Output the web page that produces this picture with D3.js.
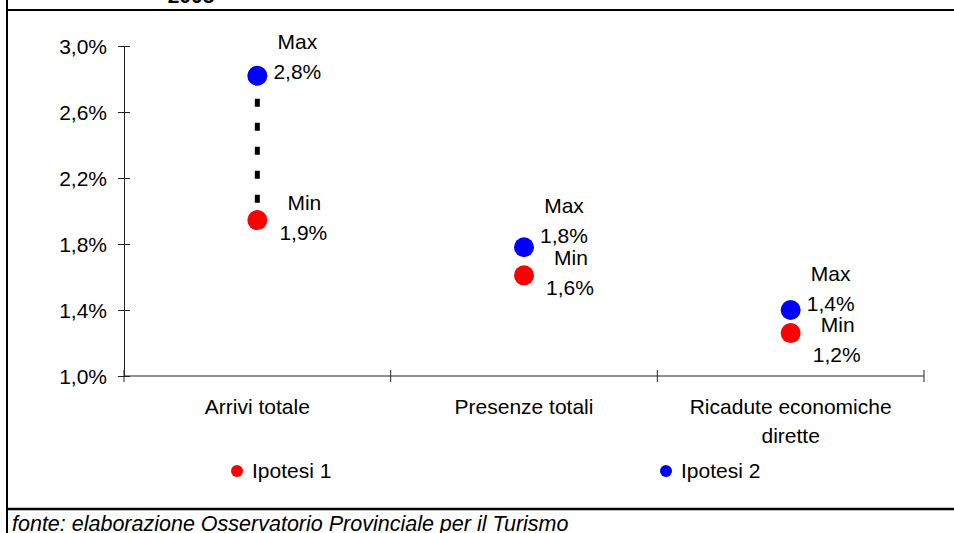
<!DOCTYPE html>
<html>
<head>
<meta charset="utf-8">
<script src="https://cdn.jsdelivr.net/npm/d3@7"></script>
<style>
  html, body { margin: 0; padding: 0; background: #fff; }
  svg { display: block; font-family: Arial, "Liberation Sans", sans-serif; }
</style>
</head>
<body>
<svg id="chart" width="954" height="533"></svg>
<script>
// ---- data ----
const categories = ["Arrivi totale", "Presenze totali", "Ricadute economiche|dirette"];
const ipotesi2Max = [2.82, 1.78, 1.40];   // blue
const ipotesi1Min = [1.945, 1.61, 1.26];  // red
const maxLabels = ["2,8%", "1,8%", "1,4%"];
const minLabels = ["1,9%", "1,6%", "1,2%"];
const yTicks = [1.0, 1.4, 1.8, 2.2, 2.6, 3.0];
const seriesNames = ["Ipotesi 1", "Ipotesi 2"];
const title = "2005";
const source = "fonte: elaborazione Osservatorio Provinciale per il Turismo";

// ---- layout (not data) ----
const maxLabelDy = [-27, -34, -29];
const minLabelDy = [-10, -10, -1];

const svg = d3.select("#chart");
const W = 954, H = 533;
const plot = { left: 124, right: 924, top: 46, bottom: 376 };
const RED = "#ff0000", BLUE = "#0000ff";
const FONT = 21;

const x = d3.scaleBand().domain(d3.range(categories.length)).range([plot.left, plot.right]).padding(0);
const y = d3.scaleLinear().domain([1.0, 3.0]).range([plot.bottom, plot.top]);
const fmt = v => v.toFixed(1).replace(".", ",") + "%";

// frame
svg.append("line").attr("x1", 7).attr("x2", 7).attr("y1", 0).attr("y2", H)
  .attr("stroke", "#000").attr("stroke-width", 2);
svg.append("line").attr("x1", 7).attr("x2", W).attr("y1", 10).attr("y2", 10)
  .attr("stroke", "#000").attr("stroke-width", 2);
svg.append("line").attr("x1", 7).attr("x2", W).attr("y1", 509).attr("y2", 509)
  .attr("stroke", "#000").attr("stroke-width", 2.5);

// title (cut off at top, as in the reference)
svg.append("text").attr("x", 191).attr("y", 3).attr("text-anchor", "middle")
  .attr("font-weight", "bold").attr("font-size", FONT).text(title);

// source
svg.append("text").attr("x", 12).attr("y", 531).attr("font-style", "italic")
  .attr("font-size", 21.5).text(source);

// y axis
const yAxis = d3.axisLeft(y).tickValues(yTicks).tickSizeInner(6).tickSizeOuter(0).tickFormat(fmt);
const gy = svg.append("g").attr("transform", `translate(${plot.left},0)`).call(yAxis);
gy.select(".domain").attr("stroke", "#222");
gy.selectAll(".tick line").attr("x2", -6).attr("x1", 6).attr("stroke", "#222");
gy.selectAll(".tick text").attr("x", -17).attr("dy", "0.36em").attr("font-size", FONT)
  .attr("font-family", "Arial, 'Liberation Sans', sans-serif").attr("fill", "#000");

// x axis
const gx = svg.append("g");
gx.append("line").attr("x1", plot.left).attr("x2", plot.right)
  .attr("y1", plot.bottom).attr("y2", plot.bottom).attr("stroke", "#222");
const bounds = d3.range(categories.length + 1).map(i => i < categories.length ? x(i) : x(i - 1) + x.bandwidth());
gx.selectAll("line.xt").data(bounds).join("line").attr("class", "xt")
  .attr("x1", d => d).attr("x2", d => d)
  .attr("y1", plot.bottom - 6).attr("y2", plot.bottom + 6).attr("stroke", "#222");
gx.selectAll("text.xl").data(categories).join("text").attr("class", "xl")
  .attr("x", (d, i) => x(i) + x.bandwidth() / 2)
  .attr("y", 414).attr("text-anchor", "middle").attr("font-size", FONT)
  .each(function(d) {
    const parts = d.split("|");
    d3.select(this).selectAll("tspan").data(parts).join("tspan")
      .attr("x", d3.select(this).attr("x")).attr("dy", (p, j) => j === 0 ? 0 : 29).text(p => p);
  });

// high-low dashed lines
const cx = i => x(i) + x.bandwidth() / 2;
svg.selectAll("line.hl").data(categories).join("line").attr("class", "hl")
  .attr("x1", (d, i) => cx(i)).attr("x2", (d, i) => cx(i))
  .attr("y1", (d, i) => y(ipotesi2Max[i])).attr("y2", (d, i) => y(ipotesi1Min[i]))
  .attr("stroke", "#000").attr("stroke-width", 5)
  .attr("stroke-dasharray", "8,16").attr("stroke-dashoffset", 1);

// dots
svg.selectAll("circle.mx").data(ipotesi2Max).join("circle").attr("class", "mx")
  .attr("cx", (d, i) => cx(i)).attr("cy", d => y(d)).attr("r", 10).attr("fill", BLUE);
svg.selectAll("circle.mn").data(ipotesi1Min).join("circle").attr("class", "mn")
  .attr("cx", (d, i) => cx(i)).attr("cy", d => y(d)).attr("r", 10).attr("fill", RED);

// labels
ipotesi2Max.forEach((v, i) => {
  const lx = cx(i) + 40, ly = y(v) + maxLabelDy[i];
  svg.append("text").attr("x", lx).attr("y", ly).attr("text-anchor", "middle").attr("font-size", FONT).text("Max");
  svg.append("text").attr("x", lx).attr("y", ly + 30).attr("text-anchor", "middle").attr("font-size", FONT).text(maxLabels[i]);
});
ipotesi1Min.forEach((v, i) => {
  const lx = cx(i) + 47, ly = y(v) + minLabelDy[i];
  svg.append("text").attr("x", lx).attr("y", ly).attr("text-anchor", "middle").attr("font-size", FONT).text("Min");
  svg.append("text").attr("x", lx - 1).attr("y", ly + 30).attr("text-anchor", "middle").attr("font-size", FONT).text(minLabels[i]);
});

// legend
const legend = [
  { name: seriesNames[0], color: RED, x: 237 },
  { name: seriesNames[1], color: BLUE, x: 666 }
];
const lg = svg.selectAll("g.lg").data(legend).join("g").attr("class", "lg");
lg.append("circle").attr("cx", d => d.x).attr("cy", 471).attr("r", 6).attr("fill", d => d.color);
lg.append("text").attr("x", d => d.x + 15).attr("y", 478).attr("font-size", FONT).text(d => d.name);
</script>
</body>
</html>
